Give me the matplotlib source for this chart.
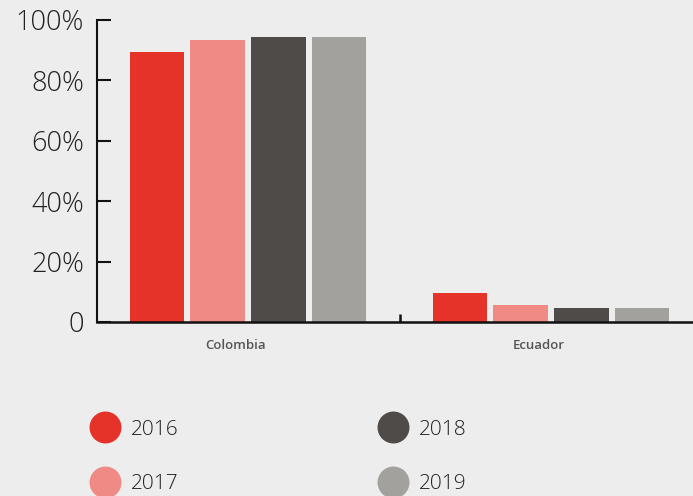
import numpy as np
import matplotlib
matplotlib.use('Agg')
import matplotlib.pyplot as plt
from matplotlib.lines import Line2D

# data
countries = ['Colombia', 'Ecuador']
years = ['2016', '2017', '2018', '2019']
vals_2016 = [89.4, 9.6]
vals_2017 = [93.4, 5.6]
vals_2018 = [94.4, 4.6]
vals_2019 = [94.4, 4.6]
colors = ['#e5332a', '#f08a85', '#4f4b48', '#a3a19e']

bg = '#ededed'
plt.rcParams['font.family'] = ['Open Sans', 'DejaVu Sans']

fig = plt.figure(figsize=(6.93, 4.96), dpi=100, facecolor=bg)
ax = fig.add_axes([96.5 / 693, 174 / 496, 606 / 693, 302 / 496])
ax.set_facecolor(bg)

x = np.arange(len(countries))
series = [vals_2016, vals_2017, vals_2018, vals_2019]
for i, (vals, c) in enumerate(zip(series, colors)):
    ax.bar(x + (i - 1.5) * 0.2, vals, width=0.18, color=c, zorder=2)

ax.set_xlim(-0.5, 1.5)
ax.set_ylim(0, 100)
ax.set_yticks([0, 20, 40, 60, 80, 100])
ax.set_yticklabels(['0', '20%', '40%', '60%', '80%', '100%'])
ax.tick_params(axis='y', direction='in', length=10, width=1.5, color='#111111',
               labelsize=19.5, labelcolor='#222222', pad=9)
for lab in ax.get_yticklabels():
    lab.set_fontweight(300)

# category labels with a separator tick between groups
ax.set_xticks([0.5])
ax.set_xticklabels([''])
ax.tick_params(axis='x', direction='in', length=6, width=1.8, color='#111111')
for xi, name in zip(x, countries):
    ax.text(xi - 0.04, -5.5, name, ha='center', va='top', fontsize=9.5, fontweight=600,
            color='#555555', transform=ax.transData)

for s in ['top', 'right']:
    ax.spines[s].set_visible(False)
ax.spines['left'].set_linewidth(1.5)
ax.spines['bottom'].set_linewidth(1.8)
ax.spines['left'].set_color('#111111')
ax.spines['bottom'].set_color('#111111')

handles = [Line2D([], [], marker='o', linestyle='none', markersize=23,
                  markerfacecolor=c, markeredgecolor='none') for c in colors]
leg = fig.legend(handles, years, ncol=2, loc='upper left', bbox_to_anchor=(0.106, 0.192),
                 frameon=False, fontsize=15, handlelength=1.2, handletextpad=0.65,
                 columnspacing=9.7, labelspacing=1.65)
for t in leg.get_texts():
    t.set_color('#222222')
    t.set_fontweight(300)

fig.savefig('out.png', dpi=100, facecolor=bg)
